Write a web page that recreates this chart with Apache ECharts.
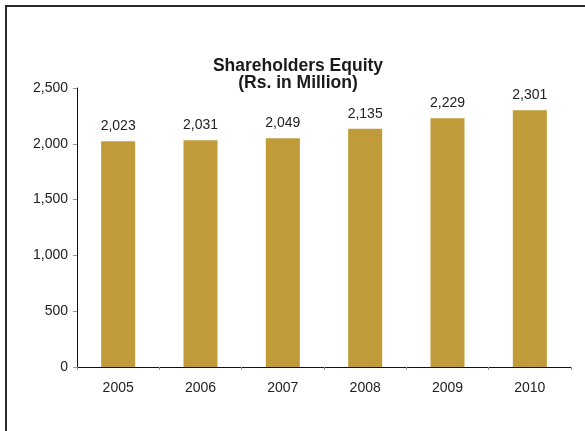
<!DOCTYPE html>
<html>
<head>
<meta charset="utf-8">
<script src="https://cdn.jsdelivr.net/npm/echarts@6/dist/echarts.min.js"></script>
<style>
  html, body { margin: 0; padding: 0; background: #fff; }
  #chart { width: 585px; height: 431px; }
</style>
</head>
<body>
<div id="chart"></div>
<script>
// Shareholders equity by year (Rs. in Million)
const years = ['2005', '2006', '2007', '2008', '2009', '2010'];
const equity = [2023, 2031, 2049, 2135, 2229, 2301];
const yTicks = { min: 0, max: 2500, interval: 500 };

const chart = echarts.init(document.getElementById('chart'), null, { renderer: 'canvas' });
const font = 'Liberation Sans, Arial, sans-serif';

chart.setOption({
  animation: false,
  backgroundColor: '#fff',
  graphic: [
    // frame lines along the top and left
    { type: 'rect', shape: { x: 5, y: 5, width: 580, height: 2 }, style: { fill: '#2a2a2a' } },
    { type: 'rect', shape: { x: 5, y: 5, width: 2, height: 426 }, style: { fill: '#2a2a2a' } },
    // chart title
    {
      type: 'text', x: 298, y: 58,
      style: {
        text: 'Shareholders Equity\n(Rs. in Million)',
        align: 'center', verticalAlign: 'top',
        font: 'bold 17.5px ' + font, lineHeight: 16.5, fill: '#1a1a1a'
      }
    }
  ],
  grid: { left: 77, right: 14, top: 88, bottom: 64, containLabel: false },
  xAxis: {
    type: 'category',
    data: years,
    axisLine: { lineStyle: { color: '#111', width: 1 } },
    axisTick: { show: true, length: 3, lineStyle: { color: '#999' } },
    axisLabel: { fontFamily: font, fontSize: 14, color: '#222', margin: 14 }
  },
  yAxis: {
    type: 'value',
    min: yTicks.min,
    max: yTicks.max,
    interval: yTicks.interval,
    axisLine: { show: true, lineStyle: { color: '#111', width: 1 } },
    axisTick: { show: true, length: 4, lineStyle: { color: '#999' } },
    splitLine: { show: false },
    axisLabel: {
      fontFamily: font, fontSize: 14, color: '#222', margin: 9,
      formatter: v => v.toLocaleString('en-US')
    }
  },
  series: [{
    type: 'bar',
    data: equity,
    barWidth: 34,
    itemStyle: { color: '#BF9B3A' },
    label: {
      show: true,
      position: 'top',
      distance: 8,
      fontFamily: font,
      fontSize: 14,
      color: '#222',
      formatter: p => p.value.toLocaleString('en-US')
    }
  }]
});
</script>
</body>
</html>
